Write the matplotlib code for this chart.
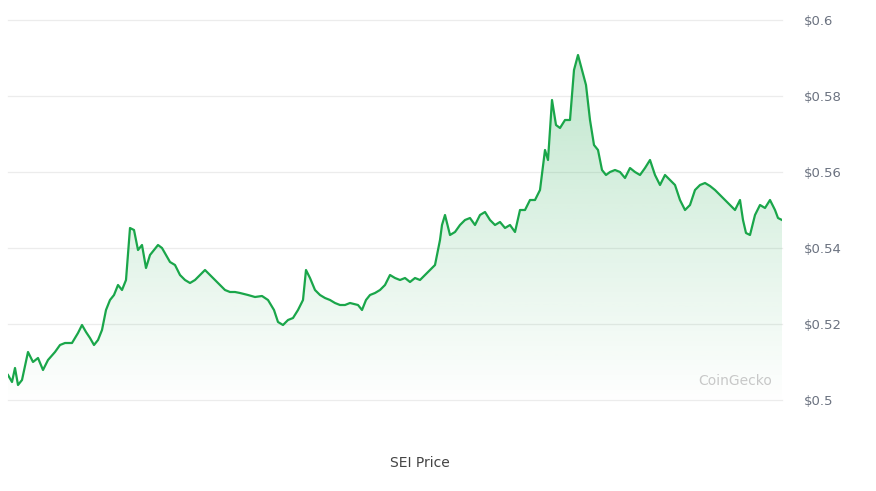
import matplotlib
matplotlib.use("Agg")
import matplotlib.pyplot as plt
import numpy as np
from matplotlib.patches import Polygon

# pixel-read trace (x pixel, y pixel) converted to price
px = [8,12,15,18,22,28,33,38,43,48,55,60,65,72,78,82,86,90,94,98,102,106,110,114,118,122,126,130,134,138,142,146,150,154,158,162,166,170,175,180,185,190,195,200,205,210,215,220,225,230,235,240,248,255,262,268,274,278,283,288,293,298,303,306,310,315,320,325,330,335,340,345,350,358,362,366,370,375,380,385,390,395,400,405,410,415,420,425,430,435,440,442,445,450,455,460,465,470,475,480,485,490,495,500,505,510,515,520,525,530,535,540,545,548,552,556,560,565,570,574,578,582,586,590,594,598,602,606,610,615,620,625,630,635,640,645,650,655,660,665,670,675,680,685,690,695,700,705,710,715,720,725,730,735,740,743,746,750,755,760,765,770,775,778,782]
py = [375,382,368,385,380,352,362,358,370,360,352,345,343,343,333,325,332,338,345,340,330,310,300,295,285,290,280,228,230,250,245,268,255,250,245,248,255,262,265,275,280,283,280,275,270,275,280,285,290,292,292,293,295,297,296,300,310,322,325,320,318,310,300,270,278,290,295,298,300,303,305,305,303,305,310,300,295,293,290,285,275,278,280,278,282,278,280,275,270,265,240,225,215,235,232,225,220,218,225,215,212,220,225,222,228,225,232,210,210,200,200,190,150,160,100,125,128,120,120,70,55,70,85,120,145,150,170,175,172,170,172,178,168,172,175,168,160,175,185,175,180,185,200,210,205,190,185,183,186,190,195,200,205,210,200,220,233,235,215,205,208,200,210,218,220]
t = np.array(px, float)
price = 0.6 - (np.array(py, float) - 20) / 3800.0
ticks = [0.5, 0.52, 0.54, 0.56, 0.58, 0.6]
tick_labels = ["$0.5", "$0.52", "$0.54", "$0.56", "$0.58", "$0.6"]

W, H = 876, 491
fig = plt.figure(figsize=(W/100, H/100), dpi=100)
ax = fig.add_axes([8/W, 1-405/H, (782-8)/W, 385/H])
ymin = 0.5 - 5/3800
ax.set_xlim(t[0], t[-1])
ax.set_ylim(ymin, 0.6)
green = "#1aa64a"
for v in ticks:
    ax.axhline(v, color="#ececec", lw=0.9, zorder=0, clip_on=False)
ax.plot(t, price, color=green, lw=1.6, zorder=3)
grad = np.linspace(0.28, 0.0, 256).reshape(-1, 1)
img = np.zeros((256, 1, 4))
img[..., 0] = 0x1a/255; img[..., 1] = 0xa6/255; img[..., 2] = 0x4a/255
img[..., 3] = grad
im = ax.imshow(img, extent=[t[0], t[-1], ymin, price.max()], aspect="auto", origin="upper", zorder=2)
poly = Polygon(np.column_stack([np.r_[t, t[-1], t[0]], np.r_[price, ymin, ymin]]), closed=True, transform=ax.transData)
im.set_clip_path(poly)
ax.set_xticks([])
ax.yaxis.tick_right()
ax.set_yticks(ticks)
ax.set_yticklabels(tick_labels, color="#6b7280", fontsize=9.5)
ax.tick_params(axis="y", length=0, pad=16)
for s in ax.spines.values():
    s.set_visible(False)
fig.text(698/W, 1-381/H, "CoinGecko", color="#c8c8c8", fontsize=10, va="center", ha="left")
fig.text(420/W, 1-463/H, "SEI Price", color="#444444", fontsize=10, ha="center", va="center")
fig.savefig("out.png", dpi=100)
